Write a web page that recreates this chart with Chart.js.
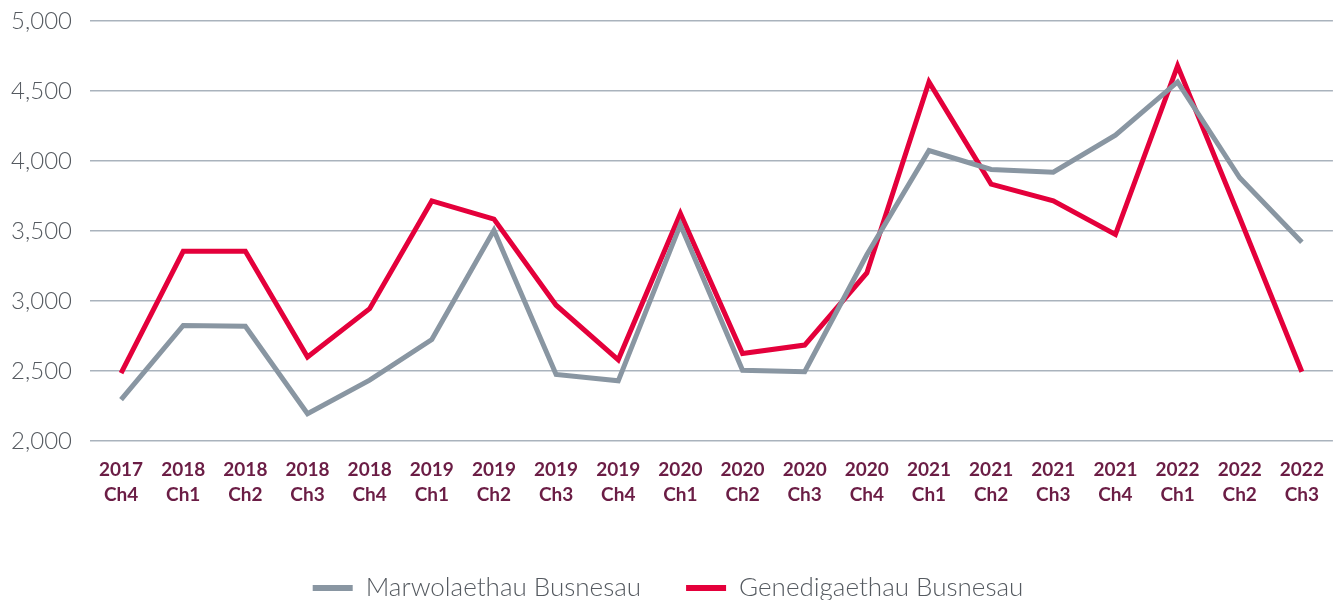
<!DOCTYPE html>
<html>
<head>
<meta charset="utf-8">
<script src="https://cdn.jsdelivr.net/npm/chart.js@4/dist/chart.umd.min.js"></script>
<style>
    html, body { margin: 0; padding: 0; background: #fff; }
    #wrap { width: 1340px; height: 600px; position: relative; }
</style>
</head>
<body>
<div id="wrap"><canvas id="chart-busnesau"></canvas></div>
<script>
// --- DATA ---
const years = ['2017', '2018', '2018', '2018', '2018', '2019', '2019', '2019', '2019', '2020',
    '2020', '2020', '2020', '2021', '2021', '2021', '2021', '2022', '2022', '2022'];
const quarters = ['Ch4', 'Ch1', 'Ch2', 'Ch3', 'Ch4', 'Ch1', 'Ch2', 'Ch3', 'Ch4', 'Ch1',
    'Ch2', 'Ch3', 'Ch4', 'Ch1', 'Ch2', 'Ch3', 'Ch4', 'Ch1', 'Ch2', 'Ch3'];
const deaths = [2295, 2825, 2820, 2195, 2435, 2725, 3505, 2475, 2430, 3545,
    2505, 2495, 3330, 4075, 3940, 3920, 4185, 4565, 3880, 3420];
const births = [2485, 3355, 3355, 2600, 2945, 3715, 3585, 2970, 2580, 3625,
    2625, 2685, 3200, 4565, 3835, 3715, 3475, 4680, 3595, 2495];
const seriesNames = ['Marwolaethau Busnesau', 'Genedigaethau Busnesau'];

const labels = years.map((y, i) => [y, quarters[i]]);

// push the legend down a little, keeps the gap between items
const legendNudge = {
    id: 'legendNudge',
    afterLayout(chart) {
        if (!chart.legend) return;
        chart.legend.top += 11;
        chart.legend.bottom += 11;
    }
};

const ctx = document.getElementById('chart-busnesau');

window.busnesauChart = new Chart(ctx, {
    type: 'line',
    data: {
        labels: labels,
        datasets: [
            {
                label: seriesNames[0],
                data: deaths,
                borderColor: '#8996a2',
                backgroundColor: '#8996a2',
                borderWidth: 5,
                pointRadius: 0,
                tension: 0,
                borderJoinStyle: 'miter'
            },
            {
                label: seriesNames[1],
                data: births,
                borderColor: '#e4003b',
                backgroundColor: '#e4003b',
                borderWidth: 5,
                pointRadius: 0,
                tension: 0,
                borderJoinStyle: 'miter'
            }
        ]
    },
    plugins: [legendNudge],
    options: {
        responsive: true,
        maintainAspectRatio: false,
        animation: false,
        layout: { padding: { top: 21, right: 4, bottom: 0, left: 0 } },
        plugins: {
            tooltip: { enabled: false },
            legend: {
                position: 'bottom',
                labels: {
                    boxWidth: 40,
                    boxHeight: 6,
                    padding: 45,
                    color: '#555a60',
                    font: { family: 'Lato', size: 26, weight: '300' },
                    generateLabels(chart) {
                        return Chart.defaults.plugins.legend.labels.generateLabels(chart)
                            .map(l => Object.assign(l, { lineWidth: 0 }));
                    }
                }
            }
        },
        scales: {
            x: {
                offset: true,
                grid: { display: false, drawTicks: false },
                border: { display: false },
                ticks: {
                    color: '#6b1d45',
                    font: { family: 'Lato', size: 19, weight: 'bold', lineHeight: 1.33 },
                    padding: 16,
                    maxRotation: 0,
                    autoSkip: false
                },
                afterFit(scale) { scale.height = 78; }
            },
            y: {
                min: 2000,
                max: 5000,
                border: { display: false },
                grid: { color: '#aab3bd', lineWidth: 1.5, drawTicks: false },
                ticks: {
                    stepSize: 500,
                    color: '#555a60',
                    padding: 18,
                    font: { family: 'Lato', size: 24, weight: '300' },
                    callback: v => v.toLocaleString('en-US')
                },
                afterFit(scale) {
                    scale.width = 90;
                    scale.paddingTop = 0;
                    scale.paddingBottom = 0;
                }
            }
        }
    }
});
</script>
</body>
</html>
